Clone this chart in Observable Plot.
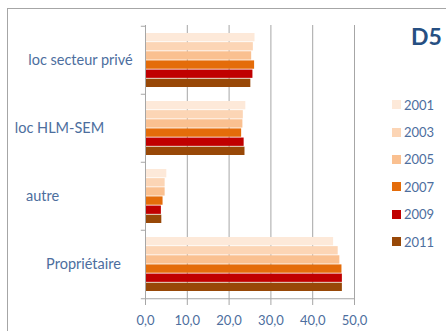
<!DOCTYPE html>
<html>
<head>
<meta charset="utf-8">
<script src="https://cdn.jsdelivr.net/npm/d3@7"></script>
<script src="https://cdn.jsdelivr.net/npm/@observablehq/plot@0.6"></script>
<style>
  body { margin: 0; background: #fff; }
  #wrap { position: relative; width: 446px; height: 331px; overflow: hidden; background: #fff; font-family: Lato, "Open Sans", sans-serif; }
  #border { position: absolute; left: 7px; top: 8px; width: 470px; height: 350px; border: 1.5px solid #a6a6a6; box-sizing: border-box; }
  #chart { position: absolute; left: 0; top: 0; }
  #chart svg text { fill: #4d6e9e; }
  #title { position: absolute; left: 411px; top: 22px; font-size: 23px; font-weight: 700; color: #264f82; }
  #legend { position: absolute; left: 392px; top: 91px; }
  .row { display: flex; align-items: center; height: 27.4px; font-size: 13px; color: #4d6e9e; }
  .sw { width: 9px; height: 9px; margin-right: 3px; }
</style>
</head>
<body>
<div id="wrap">
  <div id="border"></div>
  <div id="chart"></div>
  <div id="title">D5</div>
  <div id="legend"></div>
</div>
<script>
// Household tenure shares, one value per survey year
const categories = ["loc secteur privé", "loc HLM-SEM", "autre", "Propriétaire"];
const years = ["2001", "2003", "2005", "2007", "2009", "2011"];
const colors = ["#fde9d9", "#fcd5b5", "#fac090", "#e46c0a", "#c00000", "#984807"];
const locSecteurPrive = [26.2, 25.8, 25.4, 26.1, 25.7, 25.2];
const locHlmSem = [24.0, 23.4, 23.3, 23.0, 23.6, 23.8];
const autre = [5.1, 4.7, 4.7, 4.2, 3.8, 3.9];
const proprietaire = [45.0, 46.1, 46.5, 47.0, 47.1, 47.1];
const xTicks = [0, 10, 20, 30, 40, 50];

const series = [locSecteurPrive, locHlmSem, autre, proprietaire];
const rows = categories.flatMap((category, ci) =>
  years.map((year, yi) => ({category, year, yi, value: series[ci][yi]}))
);

const width = 446, height = 331;
const margin = {top: 25, right: 92, bottom: 32, left: 145};
const yOptions = {domain: categories, paddingInner: 0.2, paddingOuter: 0.1};

// Band geometry of the category scale, used to stack the year bars inside each band
const yScale = Plot.scale({y: {type: "band", ...yOptions, range: [margin.top, height - margin.bottom]}});
const bandwidth = yScale.bandwidth;
const step = yScale.step ?? bandwidth / (1 - yOptions.paddingInner);
const barH = bandwidth / years.length;

// Horizontal offsets of the category captions (text centre relative to the axis)
const labelShift = {"loc secteur privé": -65, "loc HLM-SEM": -86, "autre": -103, "Propriétaire": -62};

const grid = "#a6a6a6";
const fmt = d => d.toFixed(1).replace(".", ",");

const marks = [
  Plot.ruleX(xTicks.slice(1), {stroke: grid, strokeWidth: 1}),
  ...years.map((year, i) =>
    Plot.barX(rows.filter(d => d.yi === i), {
      y: "category",
      x: "value",
      fill: colors[i],
      insetTop: i * barH,
      insetBottom: (years.length - 1 - i) * barH
    })
  ),
  Plot.ruleX([0], {stroke: grid, strokeWidth: 1}),
  // bottom axis line, slightly overshooting to the left like a category tick
  Plot.ruleY([categories[categories.length - 1]], {x1: -1, x2: 50, dy: step / 2, stroke: grid}),
  // category boundary ticks on the vertical axis
  Plot.ruleY(categories, {x1: -1, x2: 0, dy: -step / 2, stroke: grid}),
  ...categories.map(c =>
    Plot.text([c], {
      y: d => d,
      text: d => d,
      frameAnchor: "left",
      textAnchor: "middle",
      dx: labelShift[c],
      fontSize: 14.5
    })
  )
];

const plot = Plot.plot({
  width, height,
  marginTop: margin.top, marginRight: margin.right, marginBottom: margin.bottom, marginLeft: margin.left,
  style: {background: "transparent", fontFamily: "Lato, 'Open Sans', sans-serif", fontSize: "13px", color: grid},
  x: {domain: [0, 50], ticks: xTicks, tickFormat: fmt, tickSize: 6, tickPadding: 10, label: null},
  y: {...yOptions, axis: null},
  marks
});
document.getElementById("chart").append(plot);

const legend = d3.select("#legend");
years.forEach((year, i) => {
  const row = legend.append("div").attr("class", "row");
  row.append("div").attr("class", "sw").style("background", colors[i]);
  row.append("span").text(year);
});
</script>
</body>
</html>
